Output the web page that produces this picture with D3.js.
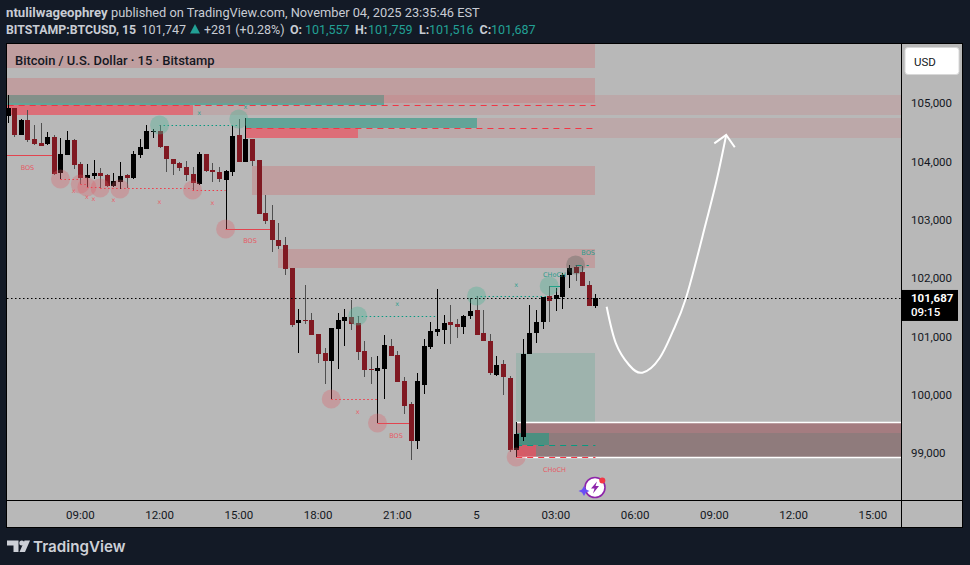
<!DOCTYPE html>
<html>
<head>
<meta charset="utf-8">
<script src="https://cdn.jsdelivr.net/npm/d3@7"></script>
<style>
    body { margin: 0; background: #131a26; }
    svg { display: block; font-family: Roboto, sans-serif; }
</style>
</head>
<body>
<div id="chart"></div>
<script>
// 15 minute bars, the first one is 06:15 on Nov 4
const barOpen = [104812,104949,104485,104743,104417,104349,104331,104451,103835,104143,104400,103989,103749,103783,103835,103800,103611,103680,103800,103749,104143,104246,104537,104554,104297,104074,104006,103937,103817,103646,104160,103886,103852,103714,103852,104485,104023,104417,104057,103149,103029,102686,102600,102206,101263,101314,101314,101074,100749,100612,101160,101297,101366,101263,100783,100474,100440,100474,100869,100714,100269,99874,99240,100200,100851,101109,101143,101280,101246,101194,101383,101486,101091,100954,100371,100560,100320,99086,99309,100731,101091,101280,101726,101674,101709,102086,102223,102137,101914,101557];
const barHigh = [105172,104949,104760,104914,104657,104692,104537,104485,104434,104554,104417,104023,103989,104057,103920,103817,103835,104023,103817,104212,104417,104657,104589,104657,104297,104074,104023,104040,103937,104194,104160,104006,103937,103886,104640,104760,104777,104417,104057,103457,103286,102977,102737,102206,101503,101914,101434,101074,100834,101177,101434,101503,101657,101383,100954,100680,100697,101057,100989,100783,100337,99909,100406,100989,101280,101846,101400,101571,101331,101400,101691,101726,101486,101074,100697,100629,100354,99566,100989,101571,101486,101709,101897,101863,102120,102257,102257,102240,101983,101759];
const barLow = [104692,104451,104485,104366,104314,104297,104314,103800,103731,104143,103903,103646,103594,103731,103577,103594,103594,103560,103577,103731,104091,104246,104434,104263,103852,103800,103869,103697,103543,103629,103852,103680,103680,102874,103783,104023,104023,103954,103131,102960,102480,102531,102086,101194,100749,101246,101057,100577,100217,99960,100474,100869,101143,100629,100337,100217,99549,99960,100697,100252,99703,98914,99103,100045,100817,101040,100903,100903,101006,101074,101331,101057,100954,100371,100354,100029,99051,98966,99240,100731,100920,101160,101280,101469,101503,101863,101983,101897,101555,101516];
const barClose = [104949,104485,104743,104400,104331,104297,104451,103817,104160,104400,103972,103749,103800,103835,103783,103611,103697,103783,103749,104160,104280,104554,104554,104280,104074,103989,103920,103800,103663,104160,103869,103852,103731,103869,104468,104023,104417,104040,103131,103012,102686,102583,102189,101229,101314,101297,101057,100731,100612,101177,101314,101366,101246,100766,100457,100457,100491,100886,100697,100252,99840,99240,100269,100869,101126,101160,101263,101229,101194,101383,101469,101057,100954,100406,100543,100337,99086,99360,100731,101091,101280,101709,101640,101743,102086,102206,102120,101897,101555,101687];

const priceTicks = [105000, 104000, 103000, 102000, 101000, 100000, 99000];

// zones are [first bar, last bar, top price, bottom price]
const rightBar = 136;
const paleZones = [[-2,rightBar,105171,104829],[36,rightBar,104777,104434]];
const orderBlockGreen = [[-2,57,105171,105000],[36,71,104777,104606]];
const orderBlockRed = [[-2,28,105000,104829],[36,53,104606,104434]];
const supplyZones = [[-2,89,106046,105634],[-2,89,105463,105034],[37,89,103954,103457],[41,89,102531,102206]];
const demandBox = [[77,89,100749,99566]];
const targetBand = [[77,rightBar,99566,98966]];
const targetBandLower = [[77,rightBar,99377,98966]];
const bandGreen = [[77,82,99377,99171]];
const bandRed = [[77,80,99171,98966]];

// lines are [first bar, last bar, price]
const redDashed = [[0,89,105000],[36,89,104606],[77,89,98966]];
const greenDashed = [[77,89,99171],[86,88,102257]];
const redDotted = [[8,11,103731],[11,12,103646],[12,14,103594],[14,28,103569],[28,33,103543],[49,56,99960]];
const greenDotted = [[23,35,104657],[53,65,101383],[71,82,101726]];
const redSolid = [[-2,7,104143],[33,40,102874],[56,61,99549]];
const greenSolid = [[82,84,101897]];

// swing markers are [bar, price]
const swingLows = [[8,103731],[11,103646],[12,103594],[14,103577],[17,103560],[28,103543],[33,102874],[49,99960],[56,99549],[77,98966]];
const swingHighs = [[23,104657],[35,104760],[53,101383],[71,101726],[82,101897]];
const swingMixed = [[86,102257]];
const redCrosses = [[10,103526],[12,103423],[13,103389],[16,103371],[23,103337],[31,103320],[53,99737]];
const greenCrosses = [[29,104863],[36,104966],[59,101589],[77,101914]];

// labels are [bar, price, text]
const redLabels = [[3,103929,'BOS'],[36.7,102677,'BOS'],[58.8,99335,'BOS'],[82.8,98751,'CHoCH']];
const greenLabels = [[82.8,102094,'CHoCH'],[87.9,102471,'BOS']];

// hand drawn projection, [bar, price]
const projection = [[90.7,101542],[92.1,100915],[94.1,100543],[96.1,100411],[98.7,100658],[100.7,101114],[102.7,101686],[105.2,102743],[107.3,103685],[108.8,104486]];
const projectionHead = [[107,104343],[108.8,104486],[110.1,104275]];

const lastPrice = 101687;
const countdown = '09:15';

const width = 970;
const height = 565;
const plot = { left: 7, right: 901, top: 44, bottom: 500, axisBottom: 528, panelRight: 963 };

const firstBarTime = Date.UTC(2025, 10, 4, 6, 15);
const barMs = 15 * 60 * 1000;
const barTime = i => new Date(firstBarTime + i * barMs);
const x = d3.scaleUtc()
    .domain([new Date(Date.UTC(2025, 10, 4, 9)), new Date(Date.UTC(2025, 10, 5, 15))])
    .range([80.3, 872.8]);
const y = d3.scaleLinear().domain([105000, 99000]).range([105, 455]);
const xBar = i => x(barTime(i));
const bars = barOpen.map((o, i) => ({ i, o, h: barHigh[i], l: barLow[i], c: barClose[i] }));

const svg = d3.select('#chart').append('svg').attr('width', width).attr('height', height);

svg.append('rect').attr('width', width).attr('height', height).attr('fill', '#131a26');
svg.append('rect')
    .attr('x', plot.left - 0.5)
    .attr('y', plot.top - 0.5)
    .attr('width', plot.panelRight - plot.left)
    .attr('height', plot.axisBottom - plot.top)
    .attr('fill', '#b8b8b8')
    .attr('stroke', '#000');

svg.append('clipPath').attr('id', 'plot-clip').append('rect')
    .attr('x', plot.left)
    .attr('y', plot.top)
    .attr('width', plot.right - plot.left)
    .attr('height', plot.bottom - plot.top);

const g = svg.append('g').attr('clip-path', 'url(#plot-clip)');

function drawZones(zones, fill) {
    g.append('g').selectAll('rect')
        .data(zones)
        .enter()
        .append('rect')
        .attr('x', d => Math.round(xBar(d[0])))
        .attr('y', d => Math.round(y(d[2])))
        .attr('width', d => Math.round(xBar(d[1])) - Math.round(xBar(d[0])))
        .attr('height', d => Math.round(y(d[3])) - Math.round(y(d[2])))
        .attr('fill', fill);
}

function drawLines(lines, color, dash, w) {
    g.append('g').selectAll('line')
        .data(lines)
        .enter()
        .append('line')
        .attr('x1', d => xBar(d[0]))
        .attr('x2', d => xBar(d[1]))
        .attr('y1', d => Math.round(y(d[2])) + 0.5)
        .attr('y2', d => Math.round(y(d[2])) + 0.5)
        .attr('stroke', color)
        .attr('stroke-width', w || 1)
        .attr('stroke-dasharray', dash);
}

function drawCircles(points, fill) {
    g.append('g').selectAll('circle')
        .data(points)
        .enter()
        .append('circle')
        .attr('cx', d => xBar(d[0]))
        .attr('cy', d => y(d[1]))
        .attr('r', 9.5)
        .attr('fill', fill);
}

function drawLabels(labels, color, size) {
    g.append('g').selectAll('text')
        .data(labels)
        .enter()
        .append('text')
        .attr('x', d => xBar(d[0]))
        .attr('y', d => y(d[1]))
        .attr('dy', '0.35em')
        .attr('text-anchor', 'middle')
        .attr('font-size', size)
        .attr('font-family', '"DejaVu Sans", sans-serif')
        .attr('fill', color)
        .text(d => d[2]);
}

drawZones(paleZones, 'rgba(208,100,104,0.18)');
drawZones(orderBlockGreen, '#62a498');
drawZones(orderBlockRed, '#dc6e78');
drawZones(supplyZones, 'rgba(208,100,104,0.3)');
drawZones(demandBox, 'rgba(100,170,150,0.3)');
drawZones(targetBand, 'rgba(140,50,60,0.45)');
drawZones(targetBandLower, 'rgba(80,120,110,0.25)');
drawZones(bandGreen, '#4b8f80');
drawZones(bandRed, '#d25c68');

// white edges of the target band
drawLines([[77, rightBar, 99566], [77, rightBar, 98966]], '#fff', null, 1.5);

drawLines(redDashed, '#f23645', '6,5');
drawLines(greenDashed, '#089981', '6,5');
drawLines(redDotted, '#f23645', '1.5,2.5');
drawLines(greenDotted, '#089981', '1.5,2.5');
drawLines(redSolid, '#e2444f');
drawLines(greenSolid, '#089981');

// candles
const candle = g.append('g').selectAll('g')
    .data(bars)
    .enter()
    .append('g')
    .attr('shape-rendering', 'crispEdges');
candle.append('rect')
    .attr('x', d => Math.round(xBar(d.i)))
    .attr('y', d => y(d.h))
    .attr('width', 1)
    .attr('height', d => y(d.l) - y(d.h))
    .attr('fill', d => d.c >= d.o ? '#000' : '#4f4f4f');
candle.append('rect')
    .attr('x', d => Math.round(xBar(d.i)) - 2)
    .attr('y', d => y(Math.max(d.o, d.c)))
    .attr('width', 5)
    .attr('height', d => Math.max(1, Math.abs(y(d.o) - y(d.c))))
    .attr('fill', d => d.c >= d.o ? '#000' : '#801922');

drawCircles(swingLows, 'rgba(226,90,100,0.3)');
drawCircles(swingHighs, 'rgba(80,180,150,0.38)');
drawCircles(swingMixed, 'rgba(70,90,80,0.3)');
drawLabels(redCrosses.map(d => [d[0], d[1], 'x']), '#e8606a', 6.5);
drawLabels(greenCrosses.map(d => [d[0], d[1], 'x']), '#2fa08f', 6.5);
drawLabels(redLabels, '#e55b66', 6.5);
drawLabels(greenLabels, '#2a9d8c', 6.5);

// last price line
g.append('line')
    .attr('x1', plot.left)
    .attr('x2', plot.right)
    .attr('y1', Math.round(y(lastPrice)) + 0.5)
    .attr('y2', Math.round(y(lastPrice)) + 0.5)
    .attr('stroke', '#000')
    .attr('stroke-dasharray', '1.5,2.5');

// projection arrow
const arrowLine = d3.line()
    .x(d => xBar(d[0]))
    .y(d => y(d[1]));
g.append('path')
    .attr('d', arrowLine.curve(d3.curveNatural)(projection))
    .attr('fill', 'none')
    .attr('stroke', '#fff')
    .attr('stroke-width', 2);
g.append('path')
    .attr('d', arrowLine.curve(d3.curveLinear)(projectionHead))
    .attr('fill', 'none')
    .attr('stroke', '#fff')
    .attr('stroke-width', 2);

// axis separators
svg.append('line')
    .attr('x1', plot.right + 0.5).attr('x2', plot.right + 0.5)
    .attr('y1', plot.top).attr('y2', plot.axisBottom)
    .attr('stroke', '#000');
svg.append('line')
    .attr('x1', plot.left).attr('x2', plot.panelRight)
    .attr('y1', plot.bottom + 0.5).attr('y2', plot.bottom + 0.5)
    .attr('stroke', '#000');

// Add the X Axis
const timeTicks = d3.utcHour.every(3).range(
    new Date(Date.UTC(2025, 10, 4, 9)),
    new Date(Date.UTC(2025, 10, 5, 16))
);
const xAxis = svg.append('g')
    .attr('transform', 'translate(-0.5,' + (plot.bottom + 1) + ')')
    .call(
        d3.axisBottom(x)
        .tickValues(timeTicks)
        .tickSize(0)
        .tickFormat(d => d.getUTCHours() === 0 ? String(d.getUTCDate()) : d3.utcFormat('%H:%M')(d))
    );
xAxis.select('.domain').remove();
xAxis.selectAll('text')
    .attr('y', 9.5)
    .attr('font-family', 'Roboto, sans-serif')
    .attr('font-size', 11.5)
    .attr('fill', '#131722');

// Add the Y Axis
const yAxis = svg.append('g')
    .attr('transform', 'translate(' + (plot.right + 1) + ',-1.7)')
    .call(d3.axisRight(y).tickValues(priceTicks).tickSize(0).tickFormat(d3.format(',')));
yAxis.select('.domain').remove();
yAxis.selectAll('text')
    .attr('x', 9)
    .attr('font-family', 'Roboto, sans-serif')
    .attr('font-size', 11.5)
    .attr('fill', '#131722');

// currency button
svg.append('rect')
    .attr('x', 905).attr('y', 47.5)
    .attr('width', 54).attr('height', 27)
    .attr('rx', 3)
    .attr('fill', '#fff')
    .attr('stroke', '#d8d8d8');
svg.append('text')
    .attr('x', 914).attr('y', 65.5)
    .attr('font-size', 11.5)
    .attr('fill', '#131722')
    .text('USD');

// last price tag
svg.append('rect')
    .attr('x', plot.right + 1)
    .attr('y', y(lastPrice) - 8.3)
    .attr('width', 56)
    .attr('height', 31)
    .attr('fill', '#000');
svg.append('text')
    .attr('x', 911).attr('y', y(lastPrice) + 3.6)
    .attr('font-size', 11.5)
    .attr('font-weight', 700)
    .attr('fill', '#fff')
    .text(d3.format(',')(lastPrice));
svg.append('text')
    .attr('x', 911).attr('y', y(lastPrice) + 17.6)
    .attr('font-size', 11.5)
    .attr('font-weight', 500)
    .attr('fill', '#fff')
    .text(countdown);

// chart title
svg.append('text')
    .attr('x', 15).attr('y', 65)
    .attr('font-size', 12.95)
    .attr('font-weight', 500)
    .attr('fill', '#131722')
    .text('Bitcoin / U.S. Dollar · 15 · Bitstamp');

// header
const header = svg.append('g').attr('font-size', 12.5);
function headerText(px, py, str, color, weight, size) {
    header.append('text')
        .attr('x', px)
        .attr('y', py)
        .attr('fill', color)
        .attr('font-weight', weight || 400)
        .attr('font-size', size || null)
        .text(str);
}
const headerGrey = '#c8ccd4';
const headerTeal = '#22a095';
headerText(6, 17, 'ntulilwageophrey', headerGrey, 700, 13.2);
headerText(111, 17, 'published on TradingView.com, November 04, 2025 23:35:46 EST', headerGrey, 400, 12.8);
headerText(6, 34, 'BITSTAMP:BTCUSD, 15', headerGrey, 700, 12.3);
headerText(141.5, 34, '101,747', headerGrey);
headerText(204, 34, '+281 (+0.28%)', headerGrey);
headerText(290, 34, 'O:', headerGrey, 700);
headerText(305, 34, '101,557', headerTeal);
headerText(355, 34, 'H:', headerGrey, 700);
headerText(368, 34, '101,759', headerTeal);
headerText(419, 34, 'L:', headerGrey, 700);
headerText(429, 34, '101,516', headerTeal);
headerText(479.5, 34, 'C:', headerGrey, 700);
headerText(491, 34, '101,687', headerTeal);
header.append('path')
    .attr('d', 'M195,24 L200,33.5 H190 Z')
    .attr('fill', headerTeal);

// sparkle badge
const badge = svg.append('g').attr('transform', 'translate(595,487.5)');
badge.append('circle').attr('r', 10).attr('fill', '#fff').attr('stroke', '#8e24aa').attr('stroke-width', 1.6);
badge.append('path').attr('d', 'M2,-6 L-4,1 H-0.5 L-2,6 L4,-1.5 H0.5 Z').attr('fill', '#8e24aa');
badge.append('path').attr('d', 'M-11,-1.5 L-9,2 L-5.5,3.5 L-9,5 L-11,8.5 L-13,5 L-16.5,3.5 L-13,2 Z').attr('fill', '#6a4df5');
badge.append('circle').attr('cx', 7.3).attr('cy', -7).attr('r', 3).attr('fill', '#f23645');

// TradingView logo
const logo = svg.append('g').attr('fill', '#cdd0d7');
logo.append('path').attr('d', 'M7,540.5 H18.5 V552 H13.5 V545.5 H7 Z');
logo.append('circle').attr('cx', 21.8).attr('cy', 543).attr('r', 2.5);
logo.append('path').attr('d', 'M24.5,540.5 H30 L25,552 H19.5 Z');
svg.append('text')
    .attr('x', 33).attr('y', 552)
    .attr('font-family', 'Inter, sans-serif')
    .attr('font-size', 15.2)
    .attr('font-weight', 600)
    .attr('fill', '#cdd0d7')
    .text('TradingView');
</script>
</body>
</html>
